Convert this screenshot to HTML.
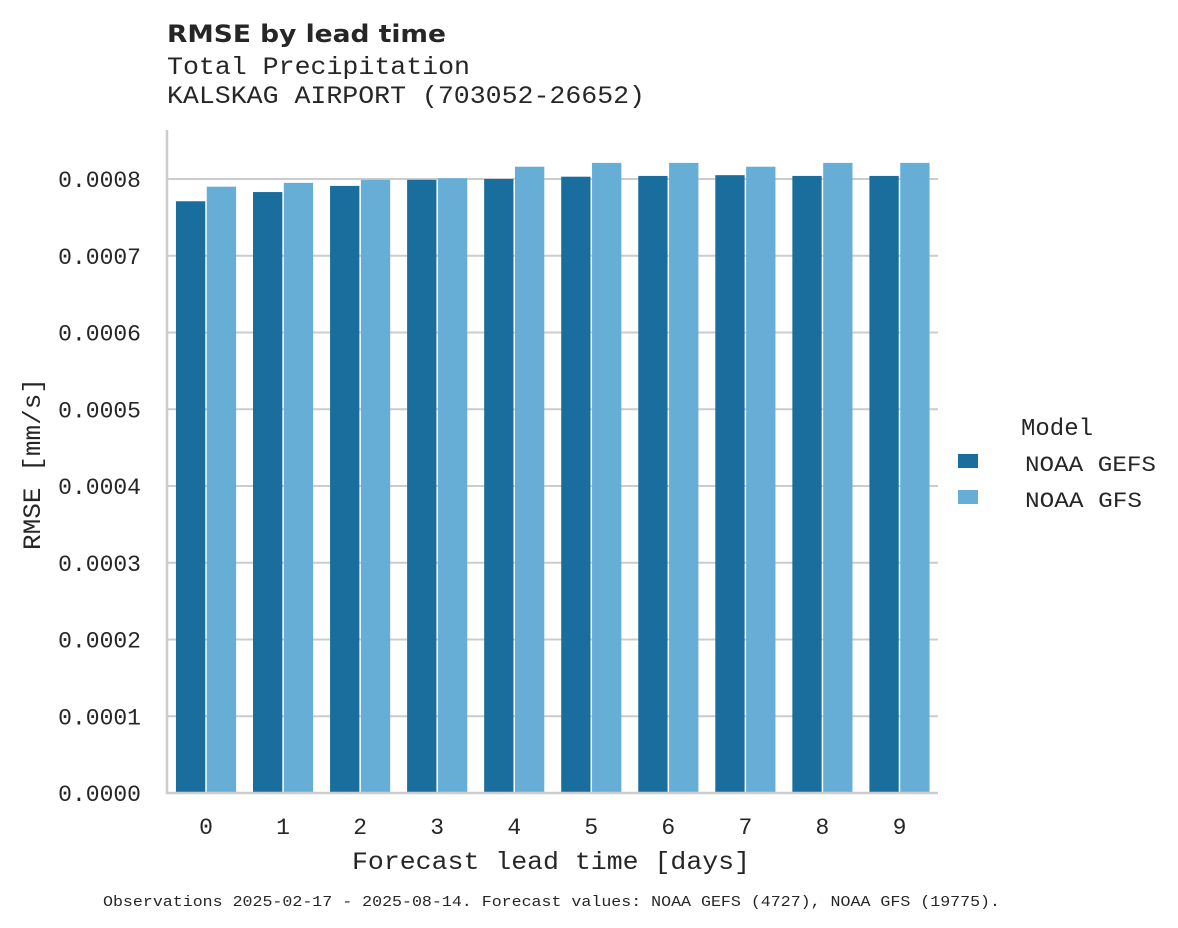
<!DOCTYPE html>
<html><head><meta charset="utf-8"><style>
body{margin:0;background:#fff}
svg{display:block}
text{fill:#262626;font-family:"Liberation Mono",monospace}
</style></head><body>
<svg id="chart" width="1178" height="928" viewBox="0 0 1178 928">
<text x="167" y="42" style="font-family:'DejaVu Sans','Liberation Sans',sans-serif;font-weight:bold;font-size:24px" textLength="279" lengthAdjust="spacingAndGlyphs">RMSE by lead time</text>
<text x="167" y="74" font-size="25" textLength="303" lengthAdjust="spacingAndGlyphs">Total Precipitation</text>
<text x="167" y="103" font-size="25" textLength="478" lengthAdjust="spacingAndGlyphs">KALSKAG AIRPORT (703052-26652)</text>
<g id="grid"></g>
<g id="bars"></g>
<g id="axes"></g>
<text x="551" y="869" font-size="25" text-anchor="middle" textLength="398" lengthAdjust="spacingAndGlyphs">Forecast lead time [days]</text>
<text transform="translate(40,464) rotate(-90)" font-size="25" text-anchor="middle" textLength="172" lengthAdjust="spacingAndGlyphs">RMSE [mm/s]</text>
<g>
<text x="1057" y="435" font-size="24" text-anchor="middle">Model</text>
<rect x="958" y="454" width="20" height="14" fill="#1a6e9e"/>
<text x="1025" y="471" font-size="22" textLength="131" lengthAdjust="spacingAndGlyphs">NOAA GEFS</text>
<rect x="958" y="490" width="20" height="14" fill="#67aed6"/>
<text x="1025" y="507" font-size="22" textLength="117" lengthAdjust="spacingAndGlyphs">NOAA GFS</text>
</g>
<text x="103" y="906" font-size="15" textLength="897" lengthAdjust="spacingAndGlyphs">Observations 2025-02-17 - 2025-08-14. Forecast values: NOAA GEFS (4727), NOAA GFS (19775).</text>
</svg>
<script>
const categories = ["0","1","2","3","4","5","6","7","8","9"];
const gefsValues = [0.000771,0.000783,0.000791,0.000799,0.000800,0.000803,0.000804,0.000805,0.000804,0.000804];
const gfsValues = [0.000790,0.000795,0.000799,0.000801,0.000816,0.000821,0.000821,0.000816,0.000821,0.000821];
const yTicks = [0,0.0001,0.0002,0.0003,0.0004,0.0005,0.0006,0.0007,0.0008];
const yTickLabels = ["0.0000","0.0001","0.0002","0.0003","0.0004","0.0005","0.0006","0.0007","0.0008"];

const NS="http://www.w3.org/2000/svg";
const left=167.5,right=938,bottom=793,topY=130;
const band=(right-left)/categories.length;
function x(i){return left+band*(i+0.5);}
function y(v){return bottom-v/0.0008*(bottom-179);}
function mk(tag,attrs,parent){const e=document.createElementNS(NS,tag);for(const k in attrs)e.setAttribute(k,attrs[k]);parent.appendChild(e);return e;}
const grid=document.getElementById('grid'),bars=document.getElementById('bars'),axes=document.getElementById('axes');
yTicks.forEach((t,i)=>{
  const yy=y(t);
  if(t>0){const g=mk('line',{x1:left,x2:right,y1:yy,y2:yy,stroke:'#cccccc','stroke-width':2},grid);
  
  }
  const tx=mk('text',{x:141,y:yy+8,'font-size':23,'text-anchor':'end'},axes);
  tx.textContent=yTickLabels[i];
  
  
});
const bw=band*0.4;
categories.forEach((c,i)=>{
  const cx=x(i);
  const b1=mk('rect',{x:cx-bw+0.75,y:y(gefsValues[i]),width:bw-1.5,height:bottom-y(gefsValues[i]),fill:'#1a6e9e'},bars);
  
  
  const b2=mk('rect',{x:cx+0.75,y:y(gfsValues[i]),width:bw-1.5,height:bottom-y(gfsValues[i]),fill:'#67aed6'},bars);
  
  
  const tx=mk('text',{x:cx,y:834,'font-size':23,'text-anchor':'middle'},axes);
  tx.textContent=c;
  
  
});
const ya=mk('line',{x1:167,x2:167,y1:topY,y2:bottom+1,stroke:'#cccccc','stroke-width':2.5},axes);


const xa=mk('line',{x1:166,x2:right,y1:bottom,y2:bottom,stroke:'#cccccc','stroke-width':2.5},axes);


</script>
</body></html>
